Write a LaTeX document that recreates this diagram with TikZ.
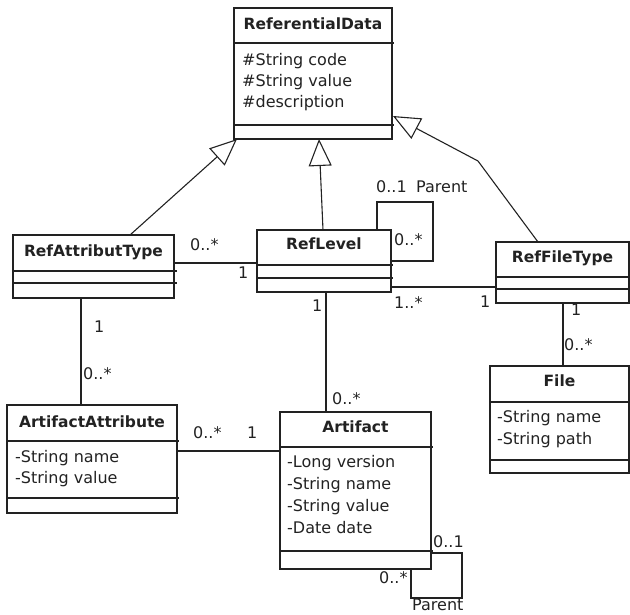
\documentclass[tikz,border=0pt]{standalone}
\usepackage{fontspec}
\setmainfont{DejaVu Sans}
\usetikzlibrary{arrows.meta,calc}
\definecolor{ink}{HTML}{222222}
\tikzset{
  umlbox/.style={draw=ink, line width=1.1pt, inner sep=0pt, outer sep=0pt, anchor=north west},
  link/.style={draw=ink, line width=1.1pt},
  gen/.style={link, -{Triangle[open, fill=white, length=27pt, width=23pt]}},
  ttl/.style={anchor=base, inner sep=0pt, text=ink, font=\fontsize{15.5}{18}\selectfont\bfseries},
  attr/.style={anchor=base west, inner sep=0pt, text=ink, font=\fontsize{16}{19}\selectfont},
  mult/.style={anchor=base west, inner sep=0pt, text=ink, font=\fontsize{16}{19}\selectfont},
}
\begin{document}
\begin{tikzpicture}[x=1pt,y=-1pt]
\useasboundingbox (0,0) rectangle (630,614);

% ---------- classes ----------
% ReferentialData
\node[umlbox, minimum width=158pt, minimum height=131pt] (rd) at (234,8) {};
\draw[link] ($(rd.north west)+(0,35)$) -- ++(160,0);
\draw[link] ($(rd.north west)+(0,117)$) -- ++(160,0);
\node[ttl] (rdT) at ($(rd.north)+(0,21)$) {ReferentialData};
\node[attr] (rdA) at ($(rd.north west)+(8,57)$) {\#String code};
\node[attr] (rdB) at ($(rd.north west)+(8,78)$) {\#String value};
\node[attr] (rdC) at ($(rd.north west)+(8,99)$) {\#description};

% RefAttributType
\node[umlbox, minimum width=161pt, minimum height=63pt] (rat) at (13,235) {};
\draw[link] ($(rat.north west)+(0,36)$) -- ++(164,0);
\draw[link] ($(rat.north west)+(0,48)$) -- ++(164,0);
\node[ttl] (ratT) at ($(rat.north)+(0,21)$) {RefAttributType};

% RefLevel
\node[umlbox, minimum width=134pt, minimum height=62pt] (rl) at (257,230) {};
\draw[link] ($(rl.north west)+(0,35)$) -- ++(136,0);
\draw[link] ($(rl.north west)+(0,48)$) -- ++(136,0);
\node[ttl] (rlT) at ($(rl.north)+(0,19)$) {RefLevel};

% RefFileType
\node[umlbox, minimum width=133pt, minimum height=61pt] (rft) at (496,242) {};
\draw[link] ($(rft.north west)+(0,35)$) -- ++(133,0);
\draw[link] ($(rft.north west)+(0,47)$) -- ++(133,0);
\node[ttl] (rftT) at ($(rft.north)+(0,20)$) {RefFileType};

% File
\node[umlbox, minimum width=139pt, minimum height=107pt] (file) at (490,366) {};
\draw[link] ($(file.north west)+(0,36)$) -- ++(139,0);
\draw[link] ($(file.north west)+(0,94)$) -- ++(139,0);
\node[ttl] (fileT) at ($(file.north)+(0,20)$) {File};
\node[attr] (fileA) at ($(file.north west)+(7,56)$) {-String name};
\node[attr] (fileB) at ($(file.north west)+(7,78)$) {-String path};

% ArtifactAttribute
\node[umlbox, minimum width=170pt, minimum height=108pt] (aa) at (7,405) {};
\draw[link] ($(aa.north west)+(0,36)$) -- ++(172,0);
\draw[link] ($(aa.north west)+(0,93)$) -- ++(172,0);
\node[ttl] (aaT) at ($(aa.north)+(0,22)$) {ArtifactAttribute};
\node[attr] (aaA) at ($(aa.north west)+(8,57)$) {-String name};
\node[attr] (aaB) at ($(aa.north west)+(8,78)$) {-String value};

% Artifact
\node[umlbox, minimum width=151pt, minimum height=157pt] (art) at (280,412) {};
\draw[link] ($(art.north west)+(0,35)$) -- ++(153,0);
\draw[link] ($(art.north west)+(0,139)$) -- ++(153,0);
\node[ttl] (artT) at ($(art.north)+(0,20)$) {Artifact};
\node[attr] (artA) at ($(art.north west)+(7,55)$) {-Long version};
\node[attr] (artB) at ($(art.north west)+(7,77)$) {-String name};
\node[attr] (artC) at ($(art.north west)+(7,99)$) {-String value};
\node[attr] (artD) at ($(art.north west)+(7,121)$) {-Date date};

% ---------- generalizations ----------
\coordinate (bend) at (478,161);
\draw[gen] ($(rat.north west)+(117,0)$) -- ($(rd.south west)+(3,0)$);
\draw[gen] ($(rl.north west)+(66,0)$) -- ($(rd.south west)+(85,0)$);
\draw[gen] ($(rft.north west)+(42,0)$) -- (bend) -- ($(rd.north east)+(1,108)$);

% ---------- associations ----------
\draw[link] ($(rat.north east)+(0,28)$) -- ($(rl.north west)+(0,33)$);
\draw[link] ($(rl.north west)+(120,0)$) -- ++(0,-28) -- ++(56,0) -- ++(0,59)
            -- ($(rl.north east)+(0,31)$);
\draw[link] ($(rl.north east)+(0,57)$) -- ($(rft.north west)+(0,45)$);
\draw[link] ($(rl.south west)+(69,0)$) -- ($(art.north west)+(46,0)$);
\draw[link] ($(rat.south west)+(68,0)$) -- ($(aa.north west)+(74,0)$);
\draw[link] ($(aa.north east)+(0,46)$) -- ($(art.north west)+(0,39)$);
\draw[link] ($(rft.south west)+(67,0)$) -- ($(file.north west)+(73,0)$);
\draw[link] ($(art.north east)+(0,141)$) -- ++(31,0) -- ++(0,45) -- ++(-51,0)
            -- ($(art.south east)+(-20,0)$);

% ---------- multiplicities and roles ----------
\node[mult] (m1) at (190,250) {0..*};
\node[mult] (m2) at (238,278) {1};
\node[mult] (m3) at (376,192) {0..1};
\node[mult] (m4) at (416,192) {Parent};
\node[mult] (m5) at (394,245) {0..*};
\node[mult] (m6) at (394,308) {1..*};
\node[mult] (m7) at (480,307) {1};
\node[mult] (m8) at (312,311) {1};
\node[mult] (m9) at (332,404) {0..*};
\node[mult] (m10) at (94,332) {1};
\node[mult] (m11) at (83,379) {0..*};
\node[mult] (m12) at (193,438) {0..*};
\node[mult] (m13) at (247,438) {1};
\node[mult] (m14) at (571,315) {1};
\node[mult] (m15) at (564,350) {0..*};
\node[mult] (m16) at (433,547) {0..1};
\node[mult] (m17) at (379,583) {0..*};
\node[mult] (m18) at (412,610) {Parent};
\end{tikzpicture}
\end{document}
